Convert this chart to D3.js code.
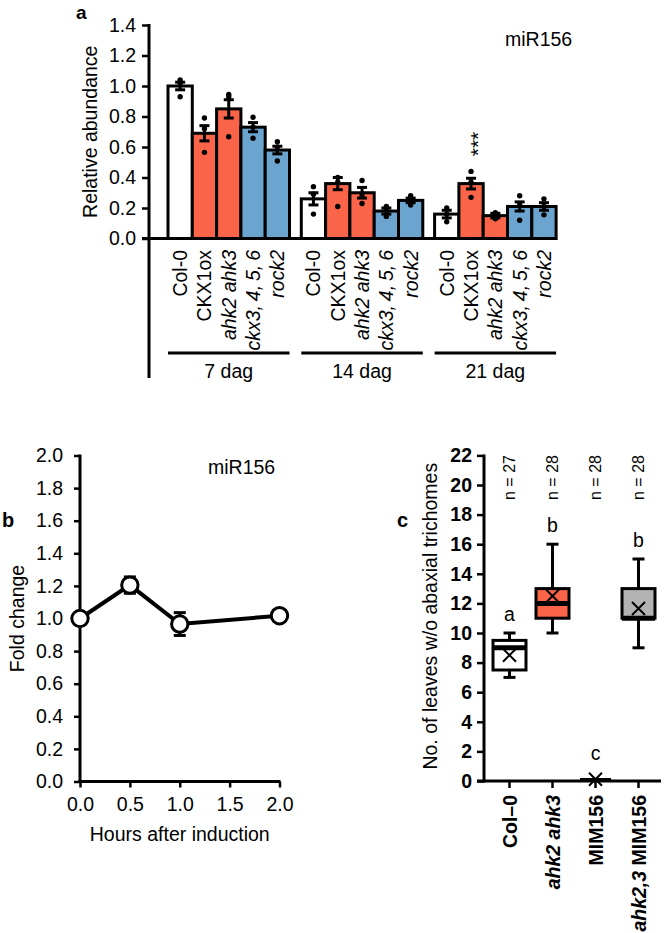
<!DOCTYPE html>
<html><head><meta charset="utf-8">
<script src="https://cdn.jsdelivr.net/npm/d3@7"></script>
<style>
body{margin:0;background:#fff;}
svg{display:block;font-family:"Liberation Sans",Arial,sans-serif;}
</style></head><body>
<svg id="c" width="665" height="933"></svg>
<script>
// ---------- Panel a data ----------
const groupsA = ["7 dag", "14 dag", "21 dag"];
const genotypesA = ["Col-0", "CKX1ox", "ahk2 ahk3", "ckx3,\u20094,\u20095,\u20096", "rock2"];
const genotypeItalic = [false, false, true, true, true];
const genotypeColor = ["#ffffff", "#fa6448", "#fa6448", "#6ba5cf", "#6ba5cf"];
const meanA = [
  [1.00, 0.69, 0.85, 0.73, 0.58],
  [0.26, 0.36, 0.30, 0.18, 0.25],
  [0.16, 0.36, 0.15, 0.21, 0.21]
];
const semA = [
  [0.025, 0.05, 0.06, 0.03, 0.025],
  [0.04, 0.04, 0.035, 0.02, 0.015],
  [0.025, 0.035, 0.015, 0.03, 0.025]
];
const pointsA = [
  [[1.04, 1.02, 0.93], [0.79, 0.72, 0.565], [0.945, 0.93, 0.667], [0.795, 0.73, 0.657], [0.635, 0.60, 0.508]],
  [[0.34, 0.29, 0.16], [0.40, 0.37, 0.21], [0.38, 0.28, 0.23], [0.21, 0.19, 0.145], [0.28, 0.25, 0.22]],
  [[0.20, 0.16, 0.11], [0.44, 0.37, 0.27], [0.17, 0.15, 0.13], [0.28, 0.22, 0.12], [0.26, 0.21, 0.155]]
];
const ticksA = [0, 0.2, 0.4, 0.6, 0.8, 1.0, 1.2, 1.4];

// ---------- Panel b data ----------
const hoursB = [0, 0.5, 1.0, 2.0];
const foldB = [1.00, 1.205, 0.966, 1.017];
const errB = [0.03, 0.05, 0.07, 0.03];
const yTicksB = [0, 0.2, 0.4, 0.6, 0.8, 1.0, 1.2, 1.4, 1.6, 1.8, 2.0];
const xTicksB = [0, 0.5, 1.0, 1.5, 2.0];

// ---------- Panel c data ----------
const catsC = ["Col–0", "ahk2 ahk3", "MIM156", "ahk2,3 MIM156"];
const minC = [7, 10, 0, 9];
const q1C = [7.5, 11, 0, 11];
const medC = [9, 12, 0, 11];
const q3C = [9.5, 13, 0, 13];
const maxC = [10, 16, 0, 15];
const meanC = [8.5, 12.5, 0.12, 11.65];
const fillC = ["#ffffff", "#fa6448", "#ffffff", "#b3b3b3"];
const nC = ["n = 27", "n = 28", "n = 28", "n = 28"];
const letterC = ["a", "b", "c", "b"];
const yTicksC = d3.range(0, 23, 2);

const svg = d3.select("#c");
const FS = 19.5;
const fmt1 = d3.format(".1f");

function styleAxis(g, bold) {
  g.select(".domain").remove();
  g.selectAll(".tick line").attr("stroke", "#000").attr("stroke-width", 2.5);
  g.selectAll(".tick text").attr("fill", "#000").style("font-size", FS + "px")
    .style("font-family", '"Liberation Sans",Arial,sans-serif')
    .style("font-weight", bold ? "bold" : "normal");
}

// ================= Panel a =================
{
  const y = d3.scaleLinear().domain([0, 1.4]).range([238.5, 25]);
  const step = 133.3, bw = 24.3;
  const xb = d3.scaleBand().domain(d3.range(5)).range([0, bw * 5]).padding(0);
  const g = svg.append("g");

  svg.append("text").attr("x", 76).attr("y", 18.5).attr("font-weight", "bold")
    .style("font-size", "19px").text("a");

  const ax = g.append("g").attr("transform", "translate(149,0)")
    .call(d3.axisLeft(y).tickValues(ticksA).tickFormat(fmt1).tickSize(7).tickPadding(6));
  styleAxis(ax, false);
  g.append("line").attr("x1", 149).attr("x2", 149).attr("y1", y(1.4) - 1).attr("y2", 378)
    .attr("stroke", "#000").attr("stroke-width", 3);

  g.append("text").attr("transform", `translate(${97},${y(0.7)}) rotate(-90)`)
    .attr("text-anchor", "middle").style("font-size", FS + "px").text("Relative abundance");

  groupsA.forEach((grp, gi) => {
    const gx = 168 + gi * step;
    genotypesA.forEach((gen, i) => {
      const x0 = gx + xb(i), cx = x0 + bw / 2;
      const m = meanA[gi][i], s = semA[gi][i];
      g.append("rect").attr("x", x0).attr("y", y(m)).attr("width", bw).attr("height", y(0) - y(m))
        .attr("fill", genotypeColor[i]).attr("stroke", "#000").attr("stroke-width", 3);
      g.append("line").attr("x1", cx).attr("x2", cx).attr("y1", y(m + s)).attr("y2", y(m - s))
        .attr("stroke", "#000").attr("stroke-width", 3);
      [m + s, m - s].forEach(v => g.append("line").attr("x1", cx - 5).attr("x2", cx + 5)
        .attr("y1", y(v)).attr("y2", y(v)).attr("stroke", "#000").attr("stroke-width", 3));
      pointsA[gi][i].forEach(v => g.append("circle").attr("cx", cx).attr("cy", y(v)).attr("r", 2.7).attr("fill", "#000"));
      g.append("text").attr("transform", `translate(${cx},250) rotate(-90)`)
        .attr("text-anchor", "end").attr("dy", "0.36em")
        .style("font-size", FS + "px").style("font-style", genotypeItalic[i] ? "italic" : "normal")
        .text(gen);
    });
    g.append("line").attr("x1", gx).attr("x2", gx + bw * 5).attr("y1", 353).attr("y2", 353)
      .attr("stroke", "#000").attr("stroke-width", 3);
    g.append("text").attr("x", gx + bw * 2.5).attr("y", 378).attr("text-anchor", "middle")
      .style("font-size", FS + "px").text(grp);
  });
  g.append("line").attr("x1", 142).attr("x2", 168 + 2 * step + bw * 5 + 1).attr("y1", y(0)).attr("y2", y(0))
    .attr("stroke", "#000").attr("stroke-width", 3);

  // significance: asterisks stacked vertically (rotated text)
  const sx = 168 + 2 * step + xb(1) + bw / 2;
  g.append("text").attr("transform", `translate(${sx},144) rotate(-90)`).attr("text-anchor", "middle")
    .attr("dy", "0.68em").style("font-size", "21px").text("***");

  g.append("text").attr("x", 505).attr("y", 46).style("font-size", FS + "px").text("miR156");
}

// ================= Panel b =================
{
  const y = d3.scaleLinear().domain([0, 2.0]).range([781.5, 455.5]);
  const x = d3.scaleLinear().domain([0, 2.0]).range([80, 279.5]);
  const g = svg.append("g");
  svg.append("text").attr("x", 2).attr("y", 527).attr("font-weight", "bold")
    .style("font-size", "20px").text("b");

  const ay = g.append("g").attr("transform", "translate(80,0)")
    .call(d3.axisLeft(y).tickValues(yTicksB).tickFormat(fmt1).tickSize(6).tickPadding(11));
  styleAxis(ay, false);
  const axx = g.append("g").attr("transform", "translate(0,781.5)")
    .call(d3.axisBottom(x).tickValues(xTicksB).tickFormat(fmt1).tickSize(6).tickPadding(10));
  styleAxis(axx, false);
  g.append("line").attr("x1", 80).attr("x2", 80).attr("y1", y(2.0) - 1).attr("y2", y(0) + 1.5)
    .attr("stroke", "#000").attr("stroke-width", 3);
  g.append("line").attr("x1", 78.5).attr("x2", x(2.0) + 1).attr("y1", y(0)).attr("y2", y(0))
    .attr("stroke", "#000").attr("stroke-width", 3);

  g.append("text").attr("transform", `translate(24,${y(1.0)}) rotate(-90)`).attr("text-anchor", "middle")
    .style("font-size", FS + "px").text("Fold change");
  g.append("text").attr("x", x(1.0)).attr("y", 841).attr("text-anchor", "middle")
    .style("font-size", FS + "px").text("Hours after induction");
  g.append("text").attr("x", 208).attr("y", 474).style("font-size", FS + "px").text("miR156");

  const line = d3.line().x((d, i) => x(hoursB[i])).y(d => y(d));
  g.append("path").attr("d", line(foldB)).attr("fill", "none").attr("stroke", "#000").attr("stroke-width", 4);
  foldB.forEach((v, i) => {
    const cx = x(hoursB[i]), e = errB[i];
    g.append("line").attr("x1", cx).attr("x2", cx).attr("y1", y(v + e)).attr("y2", y(v - e))
      .attr("stroke", "#000").attr("stroke-width", 3);
    [v + e, v - e].forEach(w => g.append("line").attr("x1", cx - 6).attr("x2", cx + 6)
      .attr("y1", y(w)).attr("y2", y(w)).attr("stroke", "#000").attr("stroke-width", 3));
  });
  foldB.forEach((v, i) => {
    g.append("circle").attr("cx", x(hoursB[i])).attr("cy", y(v)).attr("r", 8.2)
      .attr("fill", "#fff").attr("stroke", "#000").attr("stroke-width", 3);
  });
}

// ================= Panel c =================
{
  const y = d3.scaleLinear().domain([0, 22]).range([781, 455.4]);
  const x = d3.scaleBand().domain(catsC).range([488, 660]).padding(0);
  const g = svg.append("g");
  svg.append("text").attr("x", 397).attr("y", 527).attr("font-weight", "bold")
    .style("font-size", "20px").text("c");

  const ay = g.append("g").attr("transform", "translate(484,0)")
    .call(d3.axisLeft(y).tickValues(yTicksC).tickSize(7).tickPadding(5));
  styleAxis(ay, true);
  const axx = g.append("g").attr("transform", "translate(0,781)")
    .call(d3.axisBottom(x).tickSize(7).tickFormat(""));
  styleAxis(axx, true);
  g.append("line").attr("x1", 484).attr("x2", 484).attr("y1", y(22) - 1).attr("y2", y(0) + 1.5)
    .attr("stroke", "#000").attr("stroke-width", 3);
  g.append("line").attr("x1", 477).attr("x2", 661).attr("y1", y(0)).attr("y2", y(0))
    .attr("stroke", "#000").attr("stroke-width", 3);

  g.append("text").attr("transform", `translate(437,${y(11) - 2}) rotate(-90)`).attr("text-anchor", "middle")
    .style("font-size", FS + "px").text("No. of leaves w/o abaxial trichomes");

  const bw = 33;
  catsC.forEach((c, i) => {
    const cx = x(c) + x.bandwidth() / 2;
    const t = g.append("text").attr("transform", `translate(${cx},795) rotate(-90)`)
      .attr("text-anchor", "end").attr("dy", "0.36em").style("font-size", FS + "px").attr("font-weight", "bold");
    if (i === 1) t.append("tspan").style("font-style", "italic").text("ahk2 ahk3");
    else if (i === 3) { t.append("tspan").style("font-style", "italic").text("ahk2,3"); t.append("tspan").text(" MIM156"); }
    else t.text(c);

    g.append("text").attr("transform", `translate(${cx},500) rotate(-90)`).attr("text-anchor", "start")
      .attr("dy", "0.36em").style("font-size", "16px").text(nC[i]);

    if (maxC[i] > 0) {
      g.append("line").attr("x1", cx).attr("x2", cx).attr("y1", y(maxC[i])).attr("y2", y(minC[i]))
        .attr("stroke", "#000").attr("stroke-width", 3);
      [maxC[i], minC[i]].forEach(v => g.append("line").attr("x1", cx - 6).attr("x2", cx + 6)
        .attr("y1", y(v)).attr("y2", y(v)).attr("stroke", "#000").attr("stroke-width", 3));
      g.append("rect").attr("x", cx - bw / 2).attr("y", y(q3C[i])).attr("width", bw)
        .attr("height", y(q1C[i]) - y(q3C[i])).attr("fill", fillC[i]).attr("stroke", "#000").attr("stroke-width", 3);
      g.append("line").attr("x1", cx - bw / 2).attr("x2", cx + bw / 2).attr("y1", y(medC[i])).attr("y2", y(medC[i]))
        .attr("stroke", "#000").attr("stroke-width", 5);
    } else {
      g.append("line").attr("x1", cx - bw / 2 + 1).attr("x2", cx + bw / 2 - 1).attr("y1", y(0) - 1.5).attr("y2", y(0) - 1.5)
        .attr("stroke", "#000").attr("stroke-width", 3);
    }
    const my = y(meanC[i]), s = 6.5;
    g.append("path").attr("d", `M${cx - s},${my - s}L${cx + s},${my + s}M${cx - s},${my + s}L${cx + s},${my - s}`)
      .attr("stroke", "#000").attr("stroke-width", 2).attr("fill", "none");
    const ly = maxC[i] > 0 ? y(maxC[i]) - 12 : y(0) - 21;
    g.append("text").attr("x", cx).attr("y", ly).attr("text-anchor", "middle")
      .style("font-size", FS + "px").text(letterC[i]);
  });
}
</script>
</body></html>
